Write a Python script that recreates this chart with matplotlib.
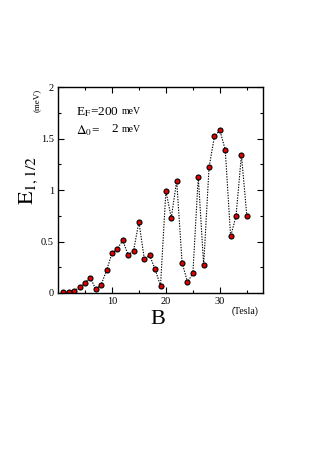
import matplotlib
matplotlib.use('Agg')
import matplotlib.pyplot as plt
from matplotlib.ticker import MultipleLocator

plt.rcParams['font.family'] = ['Liberation Serif', 'DejaVu Serif']
plt.rcParams['mathtext.fontset'] = 'stix'

# magnetic field (Tesla) and energy (meV)
campo_b = [1, 2, 3, 4, 5, 6, 7, 8, 9, 10, 11, 12, 13, 14, 15, 16, 17, 18,
           19, 20, 21, 22, 23, 24, 25, 26, 27, 28, 29, 30, 31, 32, 33, 34, 35]
energia = [0.01, 0.01, 0.02, 0.055, 0.10, 0.15, 0.035, 0.08, 0.22, 0.385,
           0.43, 0.51, 0.37, 0.41, 0.69, 0.33, 0.365, 0.23, 0.07, 0.99,
           0.73, 1.09, 0.295, 0.107, 0.19, 1.13, 0.27, 1.22, 1.52, 1.58,
           1.39, 0.55, 0.745, 1.34, 0.75]

fig = plt.figure(figsize=(3.27, 4.66), dpi=100)
ax = fig.add_axes([58 / 327, 1 - 293 / 466, 205 / 327, 206 / 466])

ax.plot(campo_b, energia, color='black', ls=(0, (1.2, 1.2)), lw=0.8,
        marker='o', ms=3.6, mfc='#e00000', mec='black', mew=0.8)

ax.set_xlim(0, 38)
ax.set_ylim(0, 2)
ax.xaxis.set_minor_locator(MultipleLocator(5))
ax.yaxis.set_minor_locator(MultipleLocator(0.25))
ax.set_xticks([10, 20, 30])
ax.set_xticklabels(['10', '20', '30'])
ax.set_yticks([0, 0.5, 1, 1.5, 2])
ax.set_yticklabels(['0', '0.5', '1', '1.5', '2'])
ax.tick_params(which='both', direction='in', top=True, right=True,
               labelsize=7.5, width=0.8, pad=3)
ax.tick_params(which='major', length=4)
ax.tick_params(which='minor', length=2.5)
for s in ax.spines.values():
    s.set_linewidth(1.0)

# etiquetas de los ejes
fig.text(29 / 327, 1 - 180 / 466, r'$\mathrm{E}_{1,1/2}$', fontsize=16,
         rotation=90, ha='center', va='center')
fig.text(37 / 327, 1 - 100 / 466, '(meV)', fontsize=6.5, rotation=90,
         ha='center', va='center')
fig.text(158 / 327, 1 - 320 / 466, 'B', fontsize=16, ha='center', va='center')
fig.text(245 / 327, 1 - 311 / 466, '(Tesla)', fontsize=7, ha='center',
         va='center')

# parametros del calculo
ax.text(0.088, 0.88, r'E$_\mathrm{F}$=200', fontsize=9.5, ha='left',
        va='center', transform=ax.transAxes)
ax.text(0.31, 0.88, 'meV', fontsize=7, ha='left', va='center',
        transform=ax.transAxes)
ax.text(0.088, 0.79, r'$\Delta_0$=', fontsize=9.5, ha='left', va='center',
        transform=ax.transAxes)
ax.text(0.26, 0.795, '2', fontsize=9.5, ha='left', va='center',
        transform=ax.transAxes)
ax.text(0.31, 0.795, 'meV', fontsize=7, ha='left', va='center',
        transform=ax.transAxes)

fig.savefig('out.png', dpi=100, facecolor='white')
